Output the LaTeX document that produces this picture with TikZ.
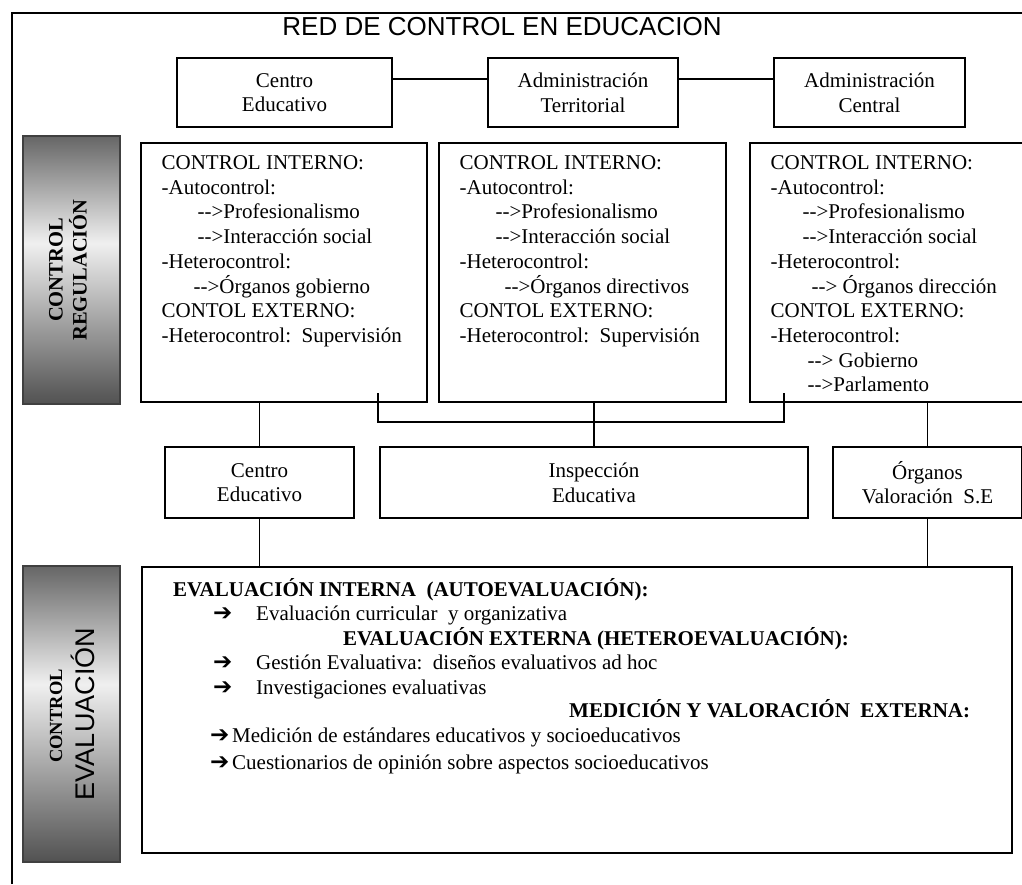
\documentclass[tikz,border=0pt]{standalone}
\usepackage{fontspec}
\setmainfont{Liberation Serif}
\setsansfont{Liberation Sans}
\newfontfamily\arrowfont{DejaVu Sans}
\usetikzlibrary{calc}
\definecolor{paneltop}{rgb}{0.40,0.40,0.40}
\definecolor{panelmid}{rgb}{0.94,0.94,0.94}
\definecolor{panelbot}{rgb}{0.32,0.32,0.32}
\pgfdeclareverticalshading{panelfade}{100bp}{color(0bp)=(panelbot); color(25bp)=(panelbot); color(55bp)=(panelmid); color(75bp)=(paneltop); color(100bp)=(paneltop)}
\newcommand{\flecha}{\mbox{-}\mbox{-}>}
\newcommand{\gruesa}[1]{\makebox[#1][l]{\arrowfont\fontsize{23}{23}\selectfont ➔}}

\begin{document}
\begin{tikzpicture}[
  x=1pt, y=-1pt,
  every node/.style={font=\fontsize{21}{24.7}\selectfont},
  line/.style={draw=black, line width=1.1pt},
  box/.style={rectangle, draw=black, line width=1.1pt, inner sep=0pt, align=center},
  panel/.style={rectangle, draw=black!75, line width=1.4pt, shade, shading=panelfade},
  boxtext/.style={anchor=north west, align=left, inner sep=0pt},
  evtext/.style={anchor=base west, inner sep=0pt},
  evhead/.style={anchor=base west, inner sep=0pt, font=\fontsize{21}{24.7}\selectfont\bfseries},
]
\useasboundingbox (0,0) rectangle (1022,884);
\clip (0,0) rectangle (1022,884);

% ---- frame and title ----
\draw[line] (12,884) -- (12,13) -- (1030,13);
\node[font=\sffamily\fontsize{26}{26}\selectfont] (titulo) at (502,27) {RED DE CONTROL EN EDUCACION};

% ---- top row ----
\node[box, minimum width=215pt, minimum height=69pt] (topcentro)  at (284.5,92.5) {Centro\\Educativo};
\node[box, minimum width=190pt, minimum height=69pt] (topterr)    at (583,92.5)   {Administración\\Territorial};
\node[box, minimum width=191pt, minimum height=69pt] (topcentral) at (869.5,92.5) {Administración\\Central};

\draw[line] ([yshift=13.5pt]topcentro.east) -- ([yshift=13.5pt]topterr.west);
\draw[line] ([yshift=13.5pt]topterr.east) -- ([yshift=13.5pt]topcentral.west);

% ---- control / regulacion ----
\node[panel, minimum width=97pt, minimum height=268pt] (panelreg) at (71.5,270) {};
\node[font=\fontsize{20.5}{24}\selectfont\bfseries, rotate=90, align=center] (txtreg) at (68,270) {CONTROL\\REGULACIÓN};

\node[box, minimum width=286pt, minimum height=259pt] (regA) at (284,272.5)   {};
\node[box, minimum width=287pt, minimum height=259pt] (regB) at (582.5,272.5) {};
\node[box, minimum width=287pt, minimum height=259pt] (regC) at (893.5,272.5) {};

\node[boxtext] (txtA) at ($(regA.north west)+(21,13)$) {CONTROL INTERNO:\\-Autocontrol:\\
  \hspace*{36pt}\flecha Profesionalismo\\\hspace*{36pt}\flecha Interacción social\\
  -Heterocontrol:\\\hspace*{32pt}\flecha Órganos gobierno\\
  CONTOL EXTERNO:\\-Heterocontrol:\ \ Supervisión};
\node[boxtext] (txtB) at ($(regB.north west)+(21,13)$) {CONTROL INTERNO:\\-Autocontrol:\\
  \hspace*{36pt}\flecha Profesionalismo\\\hspace*{36pt}\flecha Interacción social\\
  -Heterocontrol:\\\hspace*{45pt}\flecha Órganos directivos\\
  CONTOL EXTERNO:\\-Heterocontrol:\ \ Supervisión};
\node[boxtext] (txtC) at ($(regC.north west)+(21,13)$) {CONTROL INTERNO:\\-Autocontrol:\\
  \hspace*{32pt}\flecha Profesionalismo\\\hspace*{32pt}\flecha Interacción social\\
  -Heterocontrol:\\\hspace*{41pt}\flecha\ Órganos dirección\\
  CONTOL EXTERNO:\\-Heterocontrol:\\
  \hspace*{37pt}\flecha\ Gobierno\\\hspace*{37pt}\flecha Parlamento};

% ---- middle row ----
\node[box, minimum width=189pt, minimum height=71pt] (lowcentro) at (259.5,482.5) {Centro\\Educativo};
\node[box, minimum width=428pt, minimum height=71pt] (lowinsp)   at (594,482.5)   {Inspección\\Educativa};
\node[box, minimum width=189pt, minimum height=71pt] (loworg)    at (927.5,482.5) {Órganos\\Valoración\ \ S.E};

\coordinate (brA) at (378,393);
\coordinate (brC) at (784,393);
\draw[line] (brA) -- ++(0,29) -| (brC);
\draw[line] (regA.south -| lowcentro.north) -- (lowcentro.north);
\draw[line] (regB.south -| lowinsp.north) -- (lowinsp.north);
\draw[line] (regC.south -| loworg.north) -- (loworg.north);

% ---- control / evaluacion ----
\node[panel, minimum width=97pt, minimum height=296pt] (paneleval) at (71.5,714) {};
\node[font=\fontsize{18.5}{18.5}\selectfont\bfseries, rotate=90] (txtctrl) at (56,716) {CONTROL};
\node[font=\sffamily\fontsize{27}{27}\selectfont, rotate=90] (txteval) at (83,714) {EVALUACIÓN};

\node[box, minimum width=870pt, minimum height=286pt] (evalbox) at (577,710) {};

\draw[line] (lowcentro.south) -- (lowcentro.south |- evalbox.north);
\draw[line] (loworg.south) -- (loworg.south |- evalbox.north);

\node[evhead] (ev1) at (173,596) {EVALUACIÓN INTERNA\ \ (AUTOEVALUACIÓN):};
\node[evtext] (ev2) at (213,620) {\gruesa{43pt}Evaluación curricular\ \ y organizativa};
\node[evhead] (ev3) at (343,645) {EVALUACIÓN EXTERNA (HETEROEVALUACIÓN):};
\node[evtext] (ev4) at (213,669) {\gruesa{43pt}Gestión Evaluativa:\ \ diseños evaluativos ad hoc};
\node[evtext] (ev5) at (213,694) {\gruesa{43pt}Investigaciones evaluativas};
\node[evhead] (ev6) at (569,717) {MEDICIÓN Y VALORACIÓN\ \ EXTERNA:};
\node[evtext] (ev7) at (210,742) {\gruesa{22pt}Medición de estándares educativos y socioeducativos};
\node[evtext] (ev8) at (210,769) {\gruesa{22pt}Cuestionarios de opinión sobre aspectos socioeducativos};

\end{tikzpicture}
\end{document}
